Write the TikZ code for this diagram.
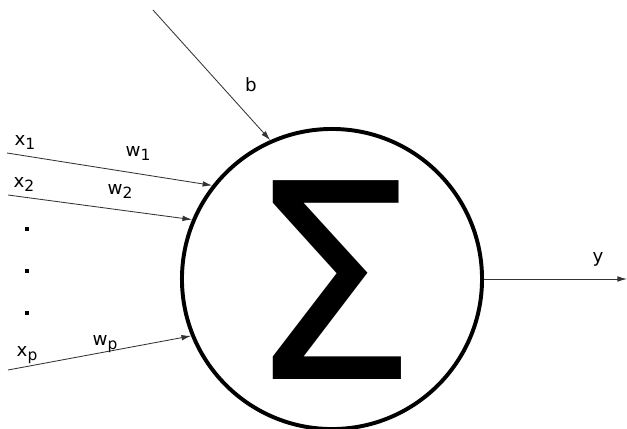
\documentclass[tikz,border=0pt]{standalone}
\usepackage{fontspec}
\setmainfont{DejaVu Sans}
\usepackage{tikz}
\usetikzlibrary{arrows.meta}
\definecolor{wiregray}{HTML}{333333}
\newcommand{\idx}[2]{#1\raisebox{-0.4ex}{\fontsize{11}{12}\selectfont #2}}

\begin{document}
\begin{tikzpicture}[x=0.025cm, y=-0.025cm, font=\fontsize{13}{15}\selectfont,
    wire/.style={-{Latex[length=2.4mm, width=1.4mm]}, line width=0.6pt, wiregray},
    dot/.style={fill, inner sep=0pt, minimum size=0.1cm}]
  \useasboundingbox (0,0) rectangle (627,429);
  % summing unit
  \node[circle, draw, line width=2.8pt, minimum size=7.5cm, inner sep=0pt] (sum) at (332,279) {};
  \node[inner sep=0pt] (sigma) at (333,280) {\fontsize{194}{194}\selectfont Σ};
  % free ends of the wires
  \coordinate (in1) at (7,153);
  \coordinate (in2) at (8,195);
  \coordinate (inp) at (8,370);
  \coordinate (bias) at (153,10);
  \coordinate (out) at (627,279);
  % inputs
  \draw[wire] (in1) -- (sum.142.3);
  \draw[wire] (in2) -- (sum.157.7);
  \draw[wire] (inp) -- (sum.202.3);
  \draw[wire] (bias) -- (sum.114.5);
  \draw[wire] (sum.east) -- (out);
  % labels
  \node (x1) at (25,142) {\idx{x}{1}};
  \node (w1) at (138,153) {\idx{w}{1}};
  \node (x2) at (24,184) {\idx{x}{2}};
  \node (w2) at (120,191) {\idx{w}{2}};
  \node (xp) at (27,355) {\idx{x}{p}};
  \node (wp) at (105,344) {\idx{w}{p}};
  \node (b) at (251,85) {b};
  \node (y) at (598,259) {y};
  % dots
  \node[dot] (d1) at (27,229) {};
  \node[dot] (d2) at (27,271) {};
  \node[dot] (d3) at (27,313) {};
\end{tikzpicture}
\end{document}
